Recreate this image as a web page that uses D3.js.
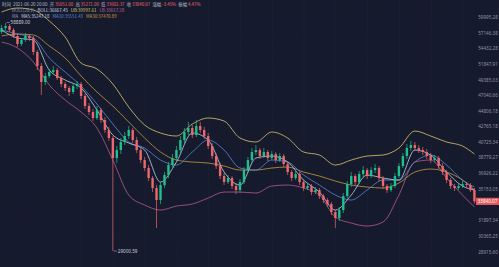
<!DOCTYPE html>
<html>
<head>
<meta charset="utf-8">
<script src="https://cdn.jsdelivr.net/npm/d3@7"></script>
<style>
    html, body { margin: 0; padding: 0; background: #161a2d; }
    svg { display: block; }
</style>
</head>
<body>
<svg id="kline" width="499" height="267"></svg>
<script>
// candle values (hourly)
const openPrices = [
    57265, 57981, 58342, 57620, 56558, 55170, 55858, 56558, 56208, 53815,
    51525, 49027, 49949, 50573, 50887, 49640, 48722, 48121, 47526, 48420,
    48722, 46939, 45503, 44663, 43839, 44940, 43566, 42233, 41198, 38716,
    39689, 40689, 41454, 42233, 40942, 39689, 38475, 37532, 36383, 35271,
    33979, 35600, 36723, 37882, 38716, 39689, 40942, 41973, 42498, 41582,
    42762, 42233, 41454, 40186, 38957, 37765, 36610, 35934, 36383, 35490,
    35051, 35934, 37298, 38475, 39445, 39689, 38957, 39445, 38716, 39200,
    38475, 38957, 38001, 37068, 36383, 36838, 35934, 35271, 35490, 34835,
    35051, 34405, 33979, 33560, 32736, 32132, 32939, 34405, 35711, 36610,
    35934, 36838, 37298, 36610, 37298, 37532, 36383, 35490, 35051, 35490,
    36610, 37765, 38957, 39937, 40310, 39937, 39689, 39445, 38957, 38475,
    38716, 37765, 37068, 36157, 35490, 35271, 35490, 35711, 35600, 35051
];
const highPrices = [
    58522, 58889, 58705, 57981, 56910, 56208, 57088, 56910, 56558, 54149,
    52008, 50417, 51047, 51525, 51206, 49949, 49027, 48420, 48874, 49179,
    49027, 47231, 45929, 45081, 45503, 45222, 43975, 42630, 41454, 40186,
    41198, 41973, 42762, 42498, 41326, 39937, 38837, 37882, 36610, 35600,
    35934, 37068, 38238, 39200, 40186, 41454, 42498, 43297, 42894, 43566,
    43297, 42630, 41843, 40563, 39322, 38119, 36953, 36723, 36610, 35823,
    36270, 37649, 38837, 39937, 40310, 39937, 39937, 39689, 39567, 39445,
    39322, 39200, 38238, 37298, 37183, 37068, 36157, 35823, 35711, 35380,
    35271, 34619, 34192, 33769, 32939, 33249, 34727, 36046, 37068, 36838,
    37183, 37765, 37532, 37649, 38001, 37765, 36610, 35711, 35823, 36953,
    38119, 39322, 40436, 40816, 40689, 40310, 40062, 39813, 39322, 39078,
    38957, 38119, 37298, 36383, 35711, 35823, 36046, 35934, 35823, 35271
];
const lowPrices = [
    56910, 57620, 57265, 56208, 54658, 54827, 55514, 55686, 53315, 50887,
    47084, 48570, 49640, 50260, 49331, 48270, 47674, 46939, 47231, 47971,
    46503, 45081, 44248, 43432, 43566, 43163, 41843, 40816, 29000.59, 38119,
    39200, 40310, 41070, 40563, 39322, 38119, 37183, 36046, 34835, 31150,
    33560, 35271, 36383, 37532, 38356, 39322, 40563, 41582, 41198, 41326,
    41843, 41070, 39813, 38596, 37415, 36270, 35600, 35711, 35161, 34619,
    34727, 35711, 36953, 38238, 39078, 38596, 38716, 38356, 38475, 38119,
    38238, 37649, 36723, 36046, 36157, 35600, 34943, 35051, 34511, 34619,
    34085, 33665, 33249, 32432, 31150, 31834, 32635, 34192, 35380, 35600,
    35711, 36497, 36270, 36383, 36953, 36046, 35161, 34727, 34835, 35271,
    36383, 37532, 38596, 39567, 39567, 39322, 39078, 38596, 38119, 38238,
    37415, 36723, 35823, 35161, 34943, 35051, 35271, 35380, 34835, 33602.37
];
const closePrices = [
    57981, 58342, 57620, 56558, 55170, 55858, 56558, 56208, 53815, 51525,
    49027, 49949, 50573, 50887, 49640, 48722, 48121, 47526, 48420, 48722,
    46939, 45503, 44663, 43839, 44940, 43566, 42233, 41198, 38716, 39689,
    40689, 41454, 42233, 40942, 39689, 38475, 37532, 36383, 35271, 33979,
    35600, 36723, 37882, 38716, 39689, 40942, 41973, 42498, 41582, 42762,
    42233, 41454, 40186, 38957, 37765, 36610, 35934, 36383, 35490, 35051,
    35934, 37298, 38475, 39445, 39689, 38957, 39445, 38716, 39200, 38475,
    38957, 38001, 37068, 36383, 36838, 35934, 35271, 35490, 34835, 35051,
    34405, 33979, 33560, 32736, 32132, 32939, 34405, 35711, 36610, 35934,
    36838, 37298, 36610, 37298, 37532, 36383, 35490, 35051, 35490, 36610,
    37765, 38957, 39937, 40310, 39937, 39689, 39445, 38957, 38475, 38716,
    37765, 37068, 36157, 35490, 35271, 35490, 35711, 35600, 35051, 33840.07
];

// indicator lines, read at every 4th candle
const lineIndex = [0, 4, 8, 12, 16, 20, 24, 28, 32, 36, 40, 44, 48, 52, 56, 60,
    64, 68, 72, 76, 80, 84, 88, 92, 96, 100, 104, 108, 112, 116, 119];
const bollUpper = [60934, 61696, 61314, 59255, 56383, 52008, 51047, 48722, 45362, 42894, 41843,
    41454, 43028, 43839, 43432, 41198, 40689, 41973, 41198, 39445, 39078, 37882, 38475, 38957,
    39078, 39937, 42103, 41454, 40689, 40186, 39200];
const bollLower = [55514, 54488, 52169, 48570, 46358, 44663, 42498, 38475, 34511, 33455, 32939,
    33352, 33560, 34192, 34835, 34835, 34727, 35490, 35600, 35271, 34511, 32232, 31636, 31343,
    31735, 34511, 38238, 38475, 36383, 34511, 33249];
const maLong = [56558, 56910, 56733, 54827, 52822, 49949, 47526, 45503, 43297, 41198, 39445,
    38475, 38238, 38119, 37765, 37298, 37298, 37532, 37649, 37068, 36610, 36046, 35600, 35380,
    35271, 35823, 37068, 37415, 37068, 36157, 35051];
const maMid = [57620, 56910, 56208, 52822, 50573, 48420, 45787, 43028, 40689, 39937, 38475,
    37882, 39445, 40942, 39689, 37532, 37298, 38475, 38238, 36723, 35600, 34511, 33979, 35051,
    36157, 36157, 38238, 39078, 37882, 36157, 35380];
const maShort = [57620, 56208, 55858, 50887, 49331, 48121, 44940, 41582, 40563, 39689, 35934,
    38238, 41843, 40942, 37068, 35600, 38716, 38957, 38238, 36157, 34835, 32939, 34511, 36723,
    36383, 36157, 39689, 39078, 37068, 35490, 35051];

// price axis labels
const tickValues = [59995.28, 57146.38, 54432.28, 51847.91, 49385.03, 47040.66, 44806.18,
    42765.18, 40725.34, 38779.27, 36926.22, 35153.05, 31897.34, 30365.25, 28915.60];

// header texts
const headerRow1 = [['时间', 'l'], ['2021-06-20 20:00', 'l'], ['开', 'l'], ['35051.00', 'v'],
    ['高', 'l'], ['35271.00', 'v'], ['低', 'l'], ['33602.37', 'v'], ['收', 'l'], ['33840.07', 'v'],
    ['涨幅', 'l'], ['-3.45%', 'v'], ['振幅', 'l'], ['4.47%', 'v']];
const headerRow2 = [['BOLL(20,2)', '#9a9fb2'], ['BOLL:36667.45', '#d8dbe6'],
    ['UB:39997.61', '#d9c86e'], ['LB:33617.28', '#c9659a']];
const headerRow3 = [['MA', '#9a9fb2'], ['MA5:35247.18', '#c8dcf0'],
    ['MA10:35551.43', '#5b8fd8'], ['MA30:37470.89', '#cf9d45']];

const colors = {
    up: '#1fc08c',
    down: '#ec686d',
    grid: '#1d2238',
    axisText: '#8f95a8',
    upper: '#d9c86e',
    lower: '#b65b90',
    long: '#c9993f',
    mid: '#5b86d6',
    short: '#bcd4ee'
};

const plotRight = 476;
const svg = d3.select('#kline');

const xScale = d3.scaleBand()
    .domain(closePrices.map((_, i) => i))
    .range([0, plotRight])
    .paddingInner(0.4)
    .paddingOuter(0.1);
const xMid = (i) => xScale(i) + xScale.bandwidth() / 2;

const yScale = d3.scaleLog().domain([28915.6, 59995.28]).range([252, 17]);

function drawGrid() {
    const g = svg.append('g');
    g.selectAll('line.v')
        .data(closePrices.map((_, i) => i).filter((i) => i % 8 === 4))
        .enter()
        .append('line')
        .attr('x1', (d) => xMid(d) + 0.5)
        .attr('x2', (d) => xMid(d) + 0.5)
        .attr('y1', 0)
        .attr('y2', 267)
        .attr('stroke', colors.grid)
        .attr('stroke-width', 0.6);
    g.selectAll('line.h')
        .data(tickValues)
        .enter()
        .append('line')
        .attr('x1', 0)
        .attr('x2', plotRight)
        .attr('y1', (d) => yScale(d))
        .attr('y2', (d) => yScale(d))
        .attr('stroke', colors.grid)
        .attr('stroke-width', 0.4);
}

function drawCandles() {
    const data = closePrices.map((c, i) => ({
        i, o: openPrices[i], h: highPrices[i], l: lowPrices[i], c
    }));
    const g = svg.append('g');
    const candle = g.selectAll('g').data(data).enter().append('g');
    const col = (d) => (d.c >= d.o ? colors.up : colors.down);
    candle.append('line')
        .attr('x1', (d) => xMid(d.i))
        .attr('x2', (d) => xMid(d.i))
        .attr('y1', (d) => yScale(d.h))
        .attr('y2', (d) => yScale(d.l))
        .attr('stroke', col)
        .attr('stroke-width', 0.7);
    candle.append('rect')
        .attr('x', (d) => xScale(d.i))
        .attr('width', xScale.bandwidth())
        .attr('y', (d) => yScale(Math.max(d.o, d.c)))
        .attr('height', (d) => Math.max(0.8, Math.abs(yScale(d.o) - yScale(d.c))))
        .attr('fill', col);
}

function drawLine(values, color) {
    const line = d3.line()
        .x((d, k) => xMid(lineIndex[k]))
        .y((d) => yScale(d))
        .curve(d3.curveMonotoneX);
    svg.append('path')
        .attr('d', line(values))
        .attr('fill', 'none')
        .attr('stroke', color)
        .attr('stroke-width', 0.8);
}

function drawAxis() {
    const g = svg.append('g')
        .attr('transform', `translate(${plotRight + 12}, 0)`)
        .call(d3.axisRight(yScale).tickValues(tickValues).tickSize(0).tickFormat(d3.format('.2f')));
    g.select('.domain').remove();
    g.selectAll('text')
        .attr('x', 0)
        .attr('text-anchor', 'middle')
        .attr('fill', colors.axisText)
        .style('font-family', 'Noto Sans, sans-serif')
        .style('font-size', '4.6px');

    const last = closePrices[closePrices.length - 1];
    const y = yScale(last);
    svg.append('rect')
        .attr('x', plotRight)
        .attr('y', y - 3.6)
        .attr('width', 23)
        .attr('height', 7.2)
        .attr('fill', '#e05a5e');
    svg.append('text')
        .text(last.toFixed(2))
        .attr('x', plotRight + 11.5)
        .attr('y', y + 1.7)
        .attr('text-anchor', 'middle')
        .attr('fill', '#ffffff')
        .style('font-family', 'Noto Sans, sans-serif')
        .style('font-size', '4.6px');
}

function drawMarker(index, value, yShift) {
    const x = xMid(index);
    const y = yScale(value) + yShift;
    svg.append('line')
        .attr('x1', x + 1).attr('x2', x + 4)
        .attr('y1', y).attr('y2', y)
        .attr('stroke', '#c8ccd8').attr('stroke-width', 0.5);
    svg.append('text')
        .text(value.toFixed(2))
        .attr('x', x + 5)
        .attr('y', y + 1.6)
        .attr('fill', '#c8ccd8')
        .style('font-family', 'Noto Sans, sans-serif')
        .style('font-size', '4.6px');
}

function drawHeader() {
    const font = '"Noto Sans CJK SC", "Noto Sans", sans-serif';
    const row1 = svg.append('text')
        .attr('x', 2).attr('y', 5.5)
        .style('font-family', font).style('font-size', '4.4px');
    headerRow1.forEach(([t, k], n) => {
        row1.append('tspan')
            .text(t)
            .attr('dx', n === 0 ? 0 : (k === 'v' ? 0.8 : 2.2))
            .attr('fill', k === 'v' ? colors.down : '#b8bccb');
    });
    [headerRow2, headerRow3].forEach((row, r) => {
        const t = svg.append('text')
            .attr('x', 12).attr('y', 11.5 + r * 6)
            .style('font-family', font).style('font-size', '4.4px');
        row.forEach(([s, c], n) => {
            t.append('tspan').text(s).attr('dx', n === 0 ? 0 : 3).attr('fill', c);
        });
    });
}

drawGrid();
drawLine(bollUpper, colors.upper);
drawLine(bollLower, colors.lower);
drawLine(maLong, colors.long);
drawLine(maMid, colors.mid);
drawLine(maShort, colors.short);
drawCandles();
drawAxis();
drawMarker(28, lowPrices[28], 0);
drawMarker(1, highPrices[1], -0.5);
drawHeader();
</script>
</body>
</html>
